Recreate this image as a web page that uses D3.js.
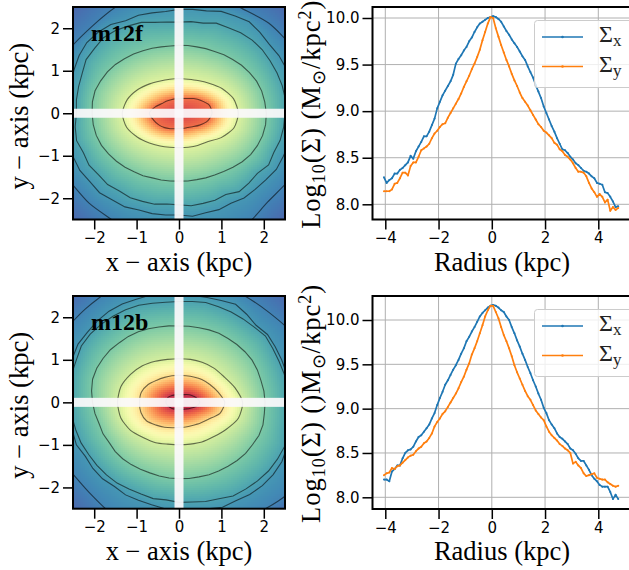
<!DOCTYPE html>
<html><head><meta charset="utf-8">
<script src="https://cdnjs.cloudflare.com/ajax/libs/d3/7.8.5/d3.min.js"></script>
<style>html,body{margin:0;padding:0;background:#fff;overflow:hidden}svg{display:block}</style>
</head><body><svg id="c" width="629" height="570"></svg>
<script>
// ---- data ----
const radius = d3.range(89).map(i => +(-4.05 + 0.1 * i).toFixed(2));
const sigmaXTop = [8.29,8.23,8.26,8.28,8.33,8.33,8.37,8.39,8.42,8.45,8.52,8.49,8.57,8.62,8.67,8.73,8.73,8.78,8.85,8.92,9.03,9.10,9.17,9.22,9.27,9.32,9.39,9.51,9.56,9.60,9.65,9.69,9.75,9.79,9.85,9.90,9.94,9.96,9.98,10.00,10.01,10.02,10.01,9.99,9.96,9.91,9.86,9.82,9.77,9.73,9.69,9.64,9.59,9.55,9.48,9.42,9.36,9.28,9.21,9.14,9.05,8.98,8.91,8.84,8.78,8.71,8.65,8.59,8.58,8.55,8.51,8.48,8.44,8.42,8.39,8.36,8.35,8.33,8.30,8.28,8.23,8.22,8.21,8.13,8.12,8.08,8.03,7.97,7.98];
const sigmaYTop = [8.14,8.14,8.14,8.16,8.22,8.23,8.28,8.34,8.34,8.31,8.41,8.45,8.45,8.51,8.58,8.60,8.62,8.65,8.71,8.76,8.79,8.83,8.86,8.87,8.93,8.98,9.03,9.08,9.13,9.19,9.26,9.32,9.38,9.45,9.51,9.58,9.66,9.76,9.85,9.94,10.01,10.00,9.89,9.80,9.71,9.63,9.55,9.48,9.40,9.33,9.27,9.20,9.14,9.10,9.06,9.01,8.96,8.91,8.86,8.83,8.79,8.77,8.74,8.71,8.66,8.64,8.59,8.57,8.53,8.51,8.48,8.44,8.39,8.35,8.35,8.34,8.30,8.23,8.17,8.13,8.08,8.11,8.08,8.02,8.05,7.93,7.97,7.94,7.96];
const sigmaXBot = [8.20,8.20,8.18,8.29,8.32,8.36,8.36,8.44,8.50,8.53,8.54,8.57,8.63,8.68,8.70,8.74,8.78,8.82,8.89,8.95,9.04,9.12,9.19,9.27,9.32,9.38,9.44,9.49,9.55,9.62,9.68,9.76,9.81,9.87,9.92,9.98,10.04,10.08,10.11,10.14,10.16,10.17,10.16,10.14,10.11,10.09,10.04,10.00,9.92,9.85,9.77,9.70,9.62,9.55,9.47,9.40,9.32,9.25,9.17,9.10,9.01,8.95,8.87,8.82,8.78,8.72,8.68,8.66,8.63,8.60,8.55,8.53,8.49,8.44,8.41,8.41,8.36,8.31,8.25,8.21,8.18,8.14,8.12,8.12,8.12,8.06,7.98,8.03,7.98];
const sigmaYBot = [8.25,8.27,8.28,8.33,8.32,8.35,8.36,8.39,8.42,8.45,8.47,8.48,8.52,8.55,8.57,8.61,8.63,8.67,8.72,8.80,8.85,8.89,8.94,8.97,9.02,9.07,9.12,9.17,9.23,9.30,9.36,9.44,9.51,9.61,9.68,9.76,9.85,9.94,10.04,10.11,10.16,10.16,10.09,10.02,9.92,9.83,9.76,9.68,9.59,9.49,9.41,9.34,9.27,9.20,9.14,9.10,9.04,8.98,8.94,8.90,8.87,8.80,8.74,8.70,8.67,8.64,8.60,8.58,8.55,8.53,8.50,8.38,8.40,8.36,8.33,8.27,8.24,8.25,8.26,8.27,8.22,8.21,8.20,8.20,8.17,8.15,8.13,8.12,8.13];

// contour radii (kpc), evenly spaced counter-clockwise from +x (24 or 48 samples)
const ringsTop = [
 [.78,.74,.60,.49,.40,.36,.34,.35,.37,.41,.46,.58,.70,.62,.55,.48,.42,.38,.36,.37,.39,.45,.56,.70],
 [1.40,1.33,1.17,1.00,.89,.83,.82,.83,.88,.98,1.12,1.26,1.34,1.28,1.13,.99,.89,.83,.81,.83,.88,.95,1.15,1.34],
 [2.06,2.04,2.02,1.98,1.92,1.86,1.79,1.74,1.68,1.65,1.62,1.61,1.60,1.60,1.62,1.66,1.70,1.76,1.82,1.89,1.95,2.00,2.05,2.06,2.05,2.04,2.02,1.98,1.92,1.86,1.80,1.74,1.70,1.65,1.63,1.61,1.60,1.61,1.62,1.65,1.68,1.73,1.80,1.88,1.95,2.00,2.04,2.06],
 [2.50,2.53,2.52,2.50,2.48,2.47,2.44,2.39,2.33,2.30,2.20,2.18,2.15,2.17,2.22,2.32,2.38,2.46,2.52,2.51,2.53,2.47,2.45,2.44,2.42,2.47,2.50,2.44,2.45,2.39,2.38,2.31,2.30,2.25,2.22,2.16,2.16,2.20,2.20,2.22,2.21,2.33,2.33,2.33,2.44,2.42,2.47,2.49],
 [2.72,2.70,2.72,2.74,2.72,2.68,2.70,2.72,2.65,2.60,2.50,2.47,2.45,2.42,2.45,2.50,2.52,2.64,2.70,2.74,2.72,2.68,2.65,2.60,2.60,2.67,2.65,2.70,2.70,2.65,2.65,2.58,2.55,2.47,2.45,2.42,2.40,2.45,2.43,2.46,2.45,2.52,2.54,2.58,2.65,2.66,2.70,2.68],
 [3.30,3.25,3.10,3.00,2.88,2.95,3.00,3.00,2.92,2.90,3.00,3.20,3.30,3.30,3.05,3.00,2.98,3.20,3.30,3.30,3.10,2.96,3.05,3.20]
];
const ringsBot = [
 [.49,.42,.33,.26,.21,.19,.19,.19,.20,.23,.27,.30,.31,.28,.24,.21,.18,.165,.165,.17,.19,.22,.29,.40],
 [1.08,.95,.84,.76,.69,.65,.64,.65,.68,.74,.84,.92,.93,.93,.88,.76,.68,.62,.59,.60,.63,.70,.80,1.00],
 [1.50,1.36,1.22,1.15,1.09,1.05,1.03,1.05,1.12,1.22,1.32,1.42,1.45,1.42,1.32,1.18,1.10,1.02,1.00,1.02,1.08,1.15,1.28,1.45],
 [2.03,2.02,2.00,2.00,1.99,1.96,1.93,1.90,1.88,1.85,1.82,1.81,1.80,1.82,1.84,1.88,1.92,1.96,1.99,2.04,2.07,2.10,2.11,2.08,2.04,2.00,1.95,1.94,1.90,1.90,1.88,1.85,1.82,1.80,1.80,1.80,1.80,1.81,1.82,1.85,1.87,1.90,1.94,1.98,2.00,2.04,2.05,2.03],
 [2.57,2.58,2.57,2.55,2.55,2.57,2.51,2.48,2.46,2.44,2.44,2.40,2.38,2.38,2.42,2.48,2.52,2.56,2.60,2.64,2.66,2.62,2.62,2.58,2.58,2.55,2.52,2.50,2.46,2.44,2.42,2.40,2.36,2.34,2.35,2.32,2.36,2.37,2.42,2.46,2.55,2.58,2.62,2.66,2.68,2.70,2.62,2.60],
 [2.68,2.65,2.63,2.62,2.62,2.63,2.57,2.62,2.67,2.60,2.56,2.54,2.50,2.55,2.62,2.63,2.68,2.71,2.72,2.72,2.75,2.72,2.65,2.68,2.66,2.64,2.60,2.62,2.55,2.56,2.55,2.50,2.52,2.50,2.50,2.53,2.55,2.56,2.60,2.68,2.68,2.74,2.78,2.80,2.80,2.76,2.72,2.70],
 [3.40,3.30,3.15,3.00,2.95,3.00,3.00,3.00,3.10,3.12,3.20,3.30,3.40,3.30,3.05,3.00,3.08,3.10,3.10,3.10,3.15,3.30,3.50,3.50]
];
const ringLevelsTop = [.80,.39,.23,.15,.125,.09];
const ringLevelsBot = [.92,.60,.37,.23,.145,.125,.09];
const centreLevel = [.90,.95];
const edgeLevel = .03;
const xyTicks = [-2,-1,0,1,2];
const radiusTicks = [-4,-2,0,2,4];
const logTicks = [8.0,8.5,9.0,9.5,10.0];
const panelNames = ["m12f","m12b"];
const seriesColors = ["#1f77b4","#ff7f0e"];
const seriesSubs = ["x","y"];

const svg = d3.select("#c");
const SERIF = "'Liberation Serif',serif", SANS = "'DejaVu Sans',sans-serif";
const defs = svg.append("defs");
const tickFont = 15, labFont = 26.5;

function ringAt(R, deg) {
  const n = R.length, a = ((deg % 360) + 360) % 360 / (360 / n), i0 = Math.floor(a) % n, i1 = (i0 + 1) % n, f = a - Math.floor(a);
  return R[i0] * (1 - f) + R[i1] * f;
}
function fieldAt(rings, levels, centre, r, deg) {
  const radii = rings.map(R => ringAt(R, deg));
  const rr = [0, ...radii, 3.7], ll = [centre, ...levels, edgeLevel];
  for (let k = 0; k < rr.length - 1; k++)
    if (r <= rr[k + 1]) return ll[k] + (ll[k + 1] - ll[k]) * (r - rr[k]) / (rr[k + 1] - rr[k]);
  return edgeLevel;
}

function heat(top, bottom, rings, levels, centre, name, id) {
  const left = 73, right = 285;
  const x = d3.scaleLinear().domain([-2.5, 2.5]).range([left, right]);
  const y = d3.scaleLinear().domain([-2.5, 2.5]).range([bottom, top]);
  const color = d3.scaleSequential(t => d3.interpolateSpectral(1 - t)).domain([0, 1]);
  const g = svg.append("g");
  defs.append("clipPath").attr("id", id).append("rect").attr("x", left).attr("y", top).attr("width", right - left).attr("height", bottom - top);
  const body = g.append("g").attr("clip-path", `url(#${id})`);
  const cells = [];
  for (let px = left; px < right; px += 2) for (let py = Math.floor(top); py < bottom; py += 2) {
    const vx = x.invert(px + 1), vy = y.invert(py + 1);
    cells.push({ px, py, v: fieldAt(rings, levels, centre, Math.hypot(vx, vy), Math.atan2(vy, vx) * 180 / Math.PI) });
  }
  body.selectAll("rect.cell").data(cells).join("rect").attr("class", "cell")
    .attr("x", d => d.px).attr("y", d => d.py).attr("width", 2).attr("height", 2)
    .attr("fill", d => color(d.v)).attr("shape-rendering", "crispEdges");
  const line = d3.lineRadial().angle((d, i, a) => (90 - i * 360 / a.length) * Math.PI / 180).radius(d => d * (x(1) - x(0)));
  body.selectAll("path.ring").data(rings).join("path").attr("class", "ring")
    .attr("transform", `translate(${x(0)},${y(0)})`)
    .attr("d", d => line.curve(d.length > 24 ? d3.curveLinearClosed : d3.curveCardinalClosed.tension(.3))(d))
    .attr("fill", "none").attr("stroke", "#000").attr("stroke-opacity", .55).attr("stroke-width", 1.1);
  const w = 0.106;
  body.append("rect").attr("x", x(-w)).attr("width", x(w) - x(-w)).attr("y", top).attr("height", bottom - top).attr("fill", "#fbf9fb").attr("opacity", .93);
  body.append("rect").attr("x", left).attr("width", right - left).attr("y", y(w)).attr("height", y(-w) - y(w)).attr("fill", "#fbf9fb").attr("opacity", .93);
  axes(g, x, y, xyTicks, xyTicks, left, right, top, bottom, d3.format("d"));
  g.append("rect").attr("x", left).attr("y", top).attr("width", right - left).attr("height", bottom - top).attr("fill", "none").attr("stroke", "#000").attr("stroke-width", 2);
  g.append("text").attr("x", 91).attr("y", top + 34).attr("font-family", SERIF).attr("font-weight", 700).attr("font-size", 24).attr("fill", "#000").text(name);
  xlab(g, (left + right) / 2, bottom + 51, "x − axis (kpc)");
  g.append("text").attr("transform", `translate(28,${(top + bottom) / 2 + 3}) rotate(-90)`).attr("text-anchor", "middle")
    .attr("font-family", SERIF).attr("font-size", labFont).text("y − axis (kpc)");
}

function xlab(g, cx, yy, t) {
  g.append("text").attr("x", cx).attr("y", yy).attr("text-anchor", "middle").attr("font-family", SERIF).attr("font-size", labFont).text(t);
}

function axes(g, x, y, xt, yt, left, right, top, bottom, yfmt) {
  const ax = g.append("g").attr("transform", `translate(0,${bottom})`).call(d3.axisBottom(x).tickValues(xt).tickSize(10).tickPadding(3).tickFormat(d => String(d).replace("-", "−")));
  const ay = g.append("g").attr("transform", `translate(${left},0)`).call(d3.axisLeft(y).tickValues(yt).tickSize(10).tickPadding(3).tickFormat(d => yfmt(d).replace("-", "−")));
  [ax, ay].forEach(a => {
    a.select(".domain").remove();
    a.selectAll("line").attr("stroke", "#000").attr("stroke-width", 1.5);
    a.selectAll("text").attr("font-family", SANS).attr("font-size", tickFont).attr("fill", "#000");
  });
}

function profile(top, bottom, y10, y8, sx, sy, labelBits, id) {
  const left = 372.5, right = 630;
  const x = d3.scaleLinear().domain([-4, 4]).range([385.3, 598.3]);
  const y = d3.scaleLinear().domain([8, 10]).range([y8, y10]);
  const g = svg.append("g");
  defs.append("clipPath").attr("id", id).append("rect").attr("x", left).attr("y", top).attr("width", right - left).attr("height", bottom - top);
  const body = g.append("g").attr("clip-path", `url(#${id})`);
  body.selectAll("line.gx").data(radiusTicks).join("line").attr("class", "gx").attr("x1", d => x(d)).attr("x2", d => x(d)).attr("y1", top).attr("y2", bottom).attr("stroke", "#b0b0b0").attr("stroke-width", 1);
  body.selectAll("line.gy").data(logTicks).join("line").attr("class", "gy").attr("y1", d => y(d)).attr("y2", d => y(d)).attr("x1", left).attr("x2", right).attr("stroke", "#b0b0b0").attr("stroke-width", 1);
  [sx, sy].forEach((s, k) => {
    const line = d3.line().x((d, i) => x(radius[i])).y(d => y(d));
    body.append("path").attr("d", line(s)).attr("fill", "none").attr("stroke", seriesColors[k]).attr("stroke-width", 1.7).attr("stroke-linejoin", "round");
    body.selectAll(null).data(s).join("circle").attr("cx", (d, i) => x(radius[i])).attr("cy", d => y(d)).attr("r", 1).attr("fill", seriesColors[k]);
  });
  axes(g, x, y, radiusTicks, logTicks, left, right, top, bottom, d3.format(".1f"));
  g.append("path").attr("d", `M${right},${top}H${left}V${bottom}H${right}`).attr("fill", "none").attr("stroke", "#000").attr("stroke-width", 2);
  // legend
  const L = 534.5, T = top + 13.5, H = 67;
  g.append("rect").attr("x", L).attr("y", T).attr("width", 110).attr("height", H).attr("rx", 3).attr("fill", "#fff").attr("fill-opacity", .8).attr("stroke", "#ccc").attr("stroke-width", 1);
  seriesSubs.forEach((sub, k) => {
    const yy = T + 16.5 + k * 29.5;
    g.append("line").attr("x1", 542).attr("x2", 583).attr("y1", yy).attr("y2", yy).attr("stroke", seriesColors[k]).attr("stroke-width", 1.7);
    g.append("circle").attr("cx", 562.5).attr("cy", yy).attr("r", 1.3).attr("fill", seriesColors[k]);
    const t = g.append("text").attr("x", 599).attr("y", yy + 5).attr("font-family", SERIF).attr("font-size", 24).attr("fill", "#222");
    t.append("tspan").text("Σ");
    t.append("tspan").attr("dy", 4).attr("font-size", 17).text(sub);
  });
  xlab(g, 502, bottom + 51, "Radius (kpc)");
  const tl = g.append("text").attr("transform", `translate(320,${(top + bottom) / 2 + 1}) rotate(-90)`).attr("text-anchor", "middle")
    .attr("font-family", SERIF).attr("font-size", labFont).attr("letter-spacing", 1);
  tl.append("tspan").text("Log");
  tl.append("tspan").attr("dy", 5).attr("font-size", 18).text("10");
  tl.append("tspan").attr("dy", -5).text("(Σ)\u00a0");
  tl.append("tspan").text(labelBits[0]);
  tl.append("tspan").attr("dy", 5).attr("font-size", 18).text("⊙");
  tl.append("tspan").attr("dy", -5).text("/kpc");
  tl.append("tspan").attr("dy", -9).attr("font-size", 18).text("2");
  tl.append("tspan").attr("dy", 9).text(")");
}

heat(7, 219.5, ringsTop, ringLevelsTop, centreLevel[0], panelNames[0], "h1");
heat(296, 508.7, ringsBot, ringLevelsBot, centreLevel[1], panelNames[1], "h2");
profile(7, 219.5, 18, 204.3, sigmaXTop, sigmaYTop, ["(M"], "p1");
profile(296, 509, 320, 497.3, sigmaXBot, sigmaYBot, ["()M"], "p2");
</script></body></html>
